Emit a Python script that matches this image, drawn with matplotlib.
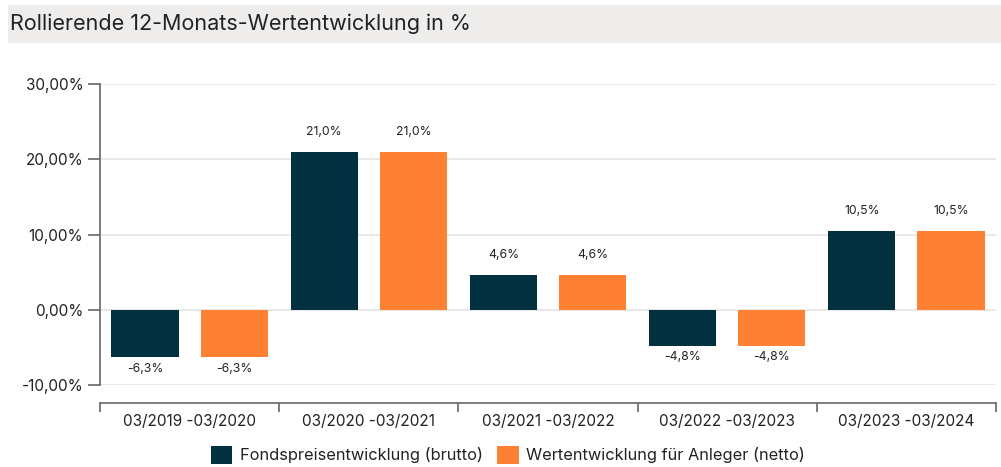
import matplotlib
matplotlib.use("Agg")
import matplotlib.pyplot as plt
import numpy as np
from matplotlib.patches import Rectangle

plt.rcParams['font.family'] = ['Inter', 'DejaVu Sans']

# --- Data ---
periods = ["03/2019 -03/2020", "03/2020 -03/2021", "03/2021 -03/2022",
           "03/2022 -03/2023", "03/2023 -03/2024"]
brutto = [-6.3, 21.0, 4.6, -4.8, 10.5]
netto = [-6.3, 21.0, 4.6, -4.8, 10.5]
series_names = ["Fondspreisentwicklung (brutto)", "Wertentwicklung für Anleger (netto)"]
yticks = [-10, 0, 10, 20, 30]

DARK = "#03303f"
ORANGE = "#fe8133"
TEXT = "#222222"

W, H = 1001, 467
fig = plt.figure(figsize=(W / 100, H / 100), dpi=100)

# --- Title band ---
fig.patches.append(Rectangle((8 / W, 1 - 43 / H), (W - 8) / W, 38 / H,
                             transform=fig.transFigure, facecolor="#eeedeb",
                             edgecolor="none", zorder=0))
fig.text(10 / W, 1 - 24 / H, "Rollierende 12-Monats-Wertentwicklung in %",
         fontsize=15.5, color=TEXT, va="center", ha="left")

# --- Axes ---
ax = fig.add_axes([100 / W, 1 - 385 / H, 896 / W, 301 / H])
x = np.arange(len(periods))
bw = 0.375
off = 0.249
b1 = ax.bar(x - off, brutto, bw, color=DARK, zorder=3, label=series_names[0])
b2 = ax.bar(x + off, netto, bw, color=ORANGE, zorder=3, label=series_names[1])

for bars, vals in ((b1, brutto), (b2, netto)):
    for rect, v in zip(bars, vals):
        cx = rect.get_x() + rect.get_width() / 2
        txt = f"{v:.1f}%".replace(".", ",")
        if v >= 0:
            ax.annotate(txt, (cx, v), xytext=(0, 10), textcoords="offset points",
                        ha="center", va="bottom", fontsize=8.8, color=TEXT)
        else:
            ax.annotate(txt, (cx, v), xytext=(0, -4), textcoords="offset points",
                        ha="center", va="top", fontsize=8.8, color=TEXT)

ax.set_xlim(-0.5, len(periods) - 0.5)
ax.set_ylim(-10, 30)
ax.set_yticks(yticks)
ax.set_yticklabels([f"{t:.2f}%".replace(".", ",") for t in yticks])
ax.grid(axis="y", color="#e6e6e6", linewidth=1.3, zorder=0)

ax.set_xticks(np.arange(len(periods) + 1) - 0.5)
ax.set_xticklabels([])
ax.set_xticks(x, minor=True)
ax.set_xticklabels(periods, minor=True)
ax.tick_params(axis="x", which="major", length=6.5, width=1.2, color="#666666", direction="out")
ax.tick_params(axis="x", which="minor", length=0, labelsize=11, labelcolor=TEXT, pad=8)
ax.tick_params(axis="y", length=9, width=1.2, color="#666666", labelsize=11,
               labelcolor=TEXT, pad=3)

for s in ("top", "right"):
    ax.spines[s].set_visible(False)
ax.spines["left"].set_color("#666666")
ax.spines["left"].set_linewidth(1.2)
ax.spines["bottom"].set_color("#666666")
ax.spines["bottom"].set_linewidth(1.2)
ax.spines["bottom"].set_position(("outward", 13))

# --- Legend ---
fig.legend(handles=[b1, b2], loc="center", bbox_to_anchor=(508 / W, 1 - 455 / H),
           ncol=2, frameon=False, fontsize=11.8, handlelength=1.3, handleheight=1.3,
           handletextpad=0.45, columnspacing=0.9, labelcolor=TEXT)

fig.savefig("out.png", dpi=100)
